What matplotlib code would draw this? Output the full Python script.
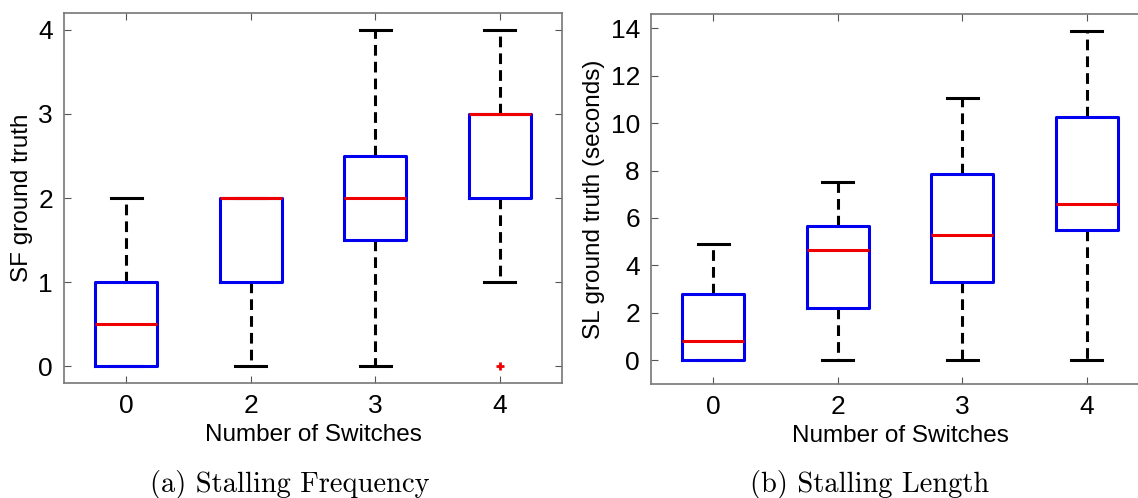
import matplotlib.pyplot as plt

plt.rcParams['font.family'] = ['Liberation Sans', 'DejaVu Sans']

# Data
switches = ['0', '2', '3', '4']

# Stalling frequency (SF)
sf_whislo = [0, 0, 0, 1]
sf_q1 = [0, 1, 1.5, 2]
sf_med = [0.5, 2, 2, 3]
sf_q3 = [1, 2, 2.5, 3]
sf_whishi = [2, 2, 4, 4]
sf_fliers = [[], [], [], [0]]

# Stalling length (SL), seconds
sl_whislo = [0, 0, 0, 0]
sl_q1 = [0, 2.2, 3.3, 5.5]
sl_med = [0.8, 4.65, 5.3, 6.6]
sl_q3 = [2.8, 5.65, 7.85, 10.25]
sl_whishi = [4.9, 7.5, 11.05, 13.9]
sl_fliers = [[], [], [], []]


def make_stats(lo, q1, med, q3, hi, fl):
    return [dict(whislo=a, q1=b, med=c, q3=d, whishi=e, fliers=f)
            for a, b, c, d, e, f in zip(lo, q1, med, q3, hi, fl)]


def draw(ax, stats, ylim, yticks, ylabel):
    ax.bxp(stats, positions=[1, 2, 3, 4], widths=0.5, capwidths=0.25,
           showfliers=True,
           boxprops=dict(color='#0000ee', linewidth=2.2, zorder=4),
           medianprops=dict(color='#ee0000', linewidth=2.2, zorder=5),
           whiskerprops=dict(color='black', linewidth=2.2, linestyle=(0, (3.5, 2)), zorder=2),
           capprops=dict(color='black', linewidth=2.2, zorder=3),
           flierprops=dict(marker='+', markeredgecolor='#ee0000',
                           markersize=6, markeredgewidth=2))
    ax.set_xlim(0.5, 4.5)
    ax.set_ylim(*ylim)
    ax.set_yticks(yticks)
    ax.set_xticks([1, 2, 3, 4])
    ax.set_xticklabels(switches)
    ax.tick_params(direction='in', length=5, top=True, right=True,
                   labelsize=19, color='#555555', pad=8)
    for s in ax.spines.values():
        s.set_color('#777777')
        s.set_linewidth(1.2)
    ax.set_xlabel('Number of Switches', fontsize=17.5, labelpad=4)
    ax.set_ylabel(ylabel, fontsize=17.5, labelpad=4)


fig = plt.figure(figsize=(11.38, 4.98), dpi=100)
ax1 = fig.add_axes([64 / 1138, 115 / 498, 498 / 1138, 370 / 498])
ax2 = fig.add_axes([651 / 1138, 114 / 498, 498 / 1138, 370 / 498])

draw(ax1, make_stats(sf_whislo, sf_q1, sf_med, sf_q3, sf_whishi, sf_fliers),
     (-0.2, 4.2), [0, 1, 2, 3, 4], 'SF ground truth')
draw(ax2, make_stats(sl_whislo, sl_q1, sl_med, sl_q3, sl_whishi, sl_fliers),
     (-1, 14.6), [0, 2, 4, 6, 8, 10, 12, 14], 'SL ground truth (seconds)')

fig.text(290 / 1138, 1 - 484 / 498, '(a) Stalling Frequency', family='cmr10',
         fontsize=20.5, ha='center', va='center')
fig.text(870 / 1138, 1 - 484 / 498, '(b) Stalling Length', family='cmr10',
         fontsize=20.5, ha='center', va='center')

fig.savefig('out.png', dpi=100)
